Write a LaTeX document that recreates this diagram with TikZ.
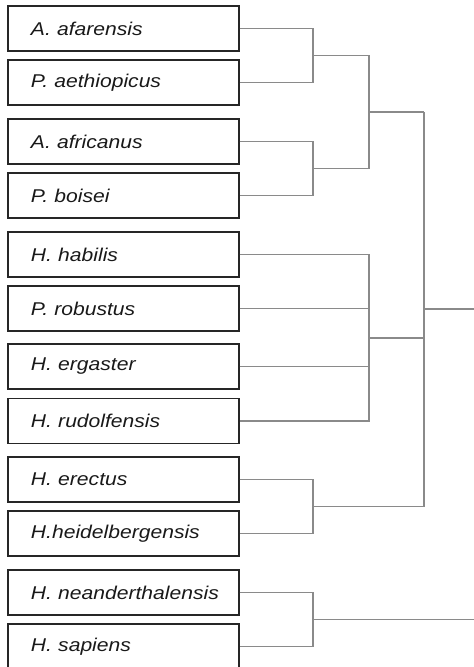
\documentclass[tikz,border=0pt]{standalone}
\usepackage{fontspec}
\newfontfamily\labelfont{Liberation Sans}[FakeStretch=1.14]
\definecolor{connc}{HTML}{8A8A8A}
\definecolor{boxc}{HTML}{262626}
\begin{document}
\begin{tikzpicture}[x=1pt,y=-1pt,
  taxon/.style={draw=boxc, line width=1.1pt, minimum height=45pt, text width=231pt,
    inner xsep=0pt, inner ysep=0pt, align=left,
    font=\labelfont\itshape\fontsize{18.5}{20}\selectfont, text=black!90},
  conn/.style={draw=connc, line width=1.8pt}]
\useasboundingbox (0,0) rectangle (474,667);
\clip (0,0) rectangle (474,667);
\node[taxon] (b1)  at (123.5,28.5)  {\hspace*{23pt}A. afarensis};
\node[taxon] (b2)  at (123.5,82.5)  {\hspace*{23pt}P. aethiopicus};
\node[taxon] (b3)  at (123.5,141.5) {\hspace*{23pt}A. africanus};
\node[taxon] (b4)  at (123.5,195.5) {\hspace*{23pt}P. boisei};
\node[taxon] (b5)  at (123.5,254.5) {\hspace*{23pt}H. habilis};
\node[taxon] (b6)  at (123.5,308.5) {\hspace*{23pt}P. robustus};
\node[taxon] (b7)  at (123.5,366.5) {\hspace*{23pt}H. ergaster};
\node[taxon] (b8)  at (123.5,421)   {\hspace*{23pt}H. rudolfensis};
\node[taxon] (b9)  at (123.5,479.5) {\hspace*{23pt}H. erectus};
\node[taxon] (b10) at (123.5,533.5) {\hspace*{23pt}H.heidelbergensis};
\node[taxon] (b11) at (123.5,592.5) {\hspace*{23pt}H. neanderthalensis};
\node[taxon] (b12) at (123.5,646.5) {\hspace*{23pt}H. sapiens};
% junctions
\coordinate (j12) at (313,55.5);
\coordinate (j34) at (313,168.5);
\coordinate (j14) at (369,112);
\coordinate (m58) at (369,337.75);
\coordinate (j910) at (313,506.5);
\coordinate (j1112) at (313,619.5);
\coordinate (ktop) at (424,112);
\coordinate (kbot) at (424,506.5);
\coordinate (kmid) at (424,309.25);
\coordinate (out1) at (474,309.25);
\coordinate (out2) at (474,619.5);
% brackets
\draw[conn] (b1.east) -| (j12) |- (b2.east);
\draw[conn] (b3.east) -| (j34) |- (b4.east);
\draw[conn] (j12) -| (j14) |- (j34);
\draw[conn] (j14) -- (ktop);
\draw[conn] (b5.east) -| (m58) |- (b8.east);
\draw[conn] (b6.east) -- (b6.east -| m58);
\draw[conn] (b7.east) -- (b7.east -| m58);
\draw[conn] (m58) -- (m58 -| ktop);
\draw[conn] (b9.east) -| (j910) |- (b10.east);
\draw[conn] (j910) -- (kbot);
\draw[conn] (ktop) -- (kbot);
\draw[conn] (kmid) -- (out1);
\draw[conn] (b11.east) -| (j1112) |- (b12.east);
\draw[conn] (j1112) -- (out2);
\end{tikzpicture}
\end{document}
